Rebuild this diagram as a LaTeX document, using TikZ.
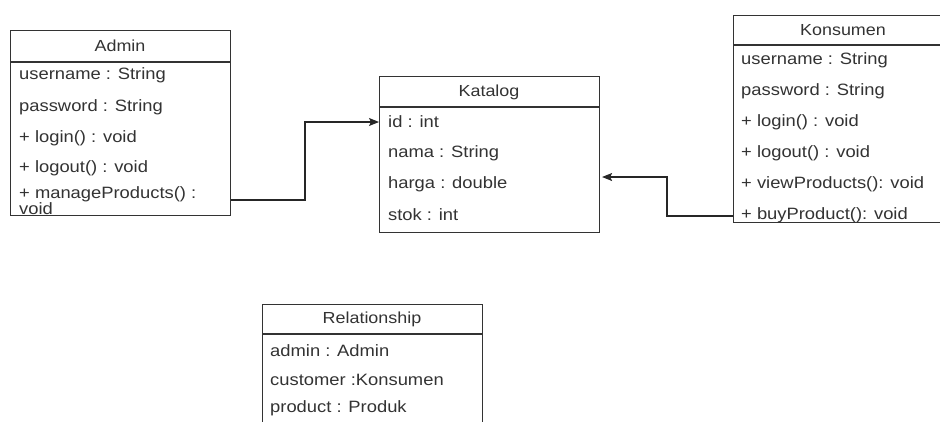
\documentclass[tikz,border=0pt]{standalone}
\usepackage{fontspec}
\setmainfont{Liberation Sans}[FakeStretch=1.12]
\usetikzlibrary{arrows.meta}

\tikzset{
  classbox/.style={draw=black!80, line width=1.1pt, fill=white, anchor=north west,
                   inner sep=0pt},
  divider/.style={draw=black!80, line width=1.1pt},
  title/.style={text=black!80, font=\fontsize{16}{17}\selectfont, inner sep=0pt},
  member/.style={text=black!80, font=\fontsize{16.4}{16}\selectfont, anchor=west,
                 inner sep=0pt, align=left},
  link/.style={draw=black!85, line width=1.1pt,
               -{Stealth[length=10pt,width=8pt,inset=2pt]}},
}

\begin{document}
\begin{tikzpicture}[x=1pt,y=-1pt]
\useasboundingbox (0,0) rectangle (940,421);
\clip (0,0) rectangle (940,421);

% ---------- Admin ----------
\node[classbox, minimum width=220pt, minimum height=185pt] (admin) at (10,30) {};
\draw[divider] ([yshift=-32pt]admin.north west) -- ([yshift=-32pt]admin.north east);
\node[title] (adminT) at (120,46) {Admin};
\node[member] (ad1) at (19,75)  {username : String};
\node[member] (ad2) at (19,107) {password : String};
\node[member] (ad3) at (19,138) {+ login() : void};
\node[member] (ad4) at (19,168) {+ logout() : void};
\node[member] (ad5) at (19,201) {+ manageProducts() :\\void};

% ---------- Katalog ----------
\node[classbox, minimum width=220pt, minimum height=156pt] (kat) at (379,76) {};
\draw[divider] ([yshift=-31pt]kat.north west) -- ([yshift=-31pt]kat.north east);
\node[title] (katT) at (489,92) {Katalog};
\node[member] (k1) at (388,122) {id : int};
\node[member] (k2) at (388,153) {nama : String};
\node[member] (k3) at (388,184) {harga : double};
\node[member] (k4) at (388,215) {stok : int};

% ---------- Konsumen ----------
\node[classbox, minimum width=220pt, minimum height=207pt] (kon) at (733,15) {};
\draw[divider] ([yshift=-30pt]kon.north west) -- ([yshift=-30pt]kon.north east);
\node[title] (konT) at (843,30) {Konsumen};
\node[member] (c1) at (741,60)  {username : String};
\node[member] (c2) at (741,91)  {password : String};
\node[member] (c3) at (741,122) {+ login() : void};
\node[member] (c4) at (741,153) {+ logout() : void};
\node[member] (c5) at (741,184) {+ viewProducts(): void};
\node[member] (c6) at (741,215) {+ buyProduct(): void};

% ---------- Relationship ----------
\node[classbox, minimum width=220pt, minimum height=140pt] (rel) at (262,304) {};
\draw[divider] ([yshift=-30pt]rel.north west) -- ([yshift=-30pt]rel.north east);
\node[title] (relT) at (372,319) {Relationship};
\node[member] (r1) at (270,351) {admin : Admin};
\node[member] (r2) at (270,380) {customer :Konsumen};
\node[member] (r3) at (270,408) {product : Produk};

% ---------- associations ----------
\coordinate (aOut) at (admin.east |- 0,200);
\coordinate (kIn)  at (kat.west |- k1);
\draw[link] (aOut) -- (305,200) |- (kIn);

\coordinate (cOut) at (kon.west |- 0,216);
\coordinate (kIn2) at ([xshift=2pt]kat.east |- 0,177);
\draw[link] (cOut) -- (667,216) |- (kIn2);
\end{tikzpicture}
\end{document}
